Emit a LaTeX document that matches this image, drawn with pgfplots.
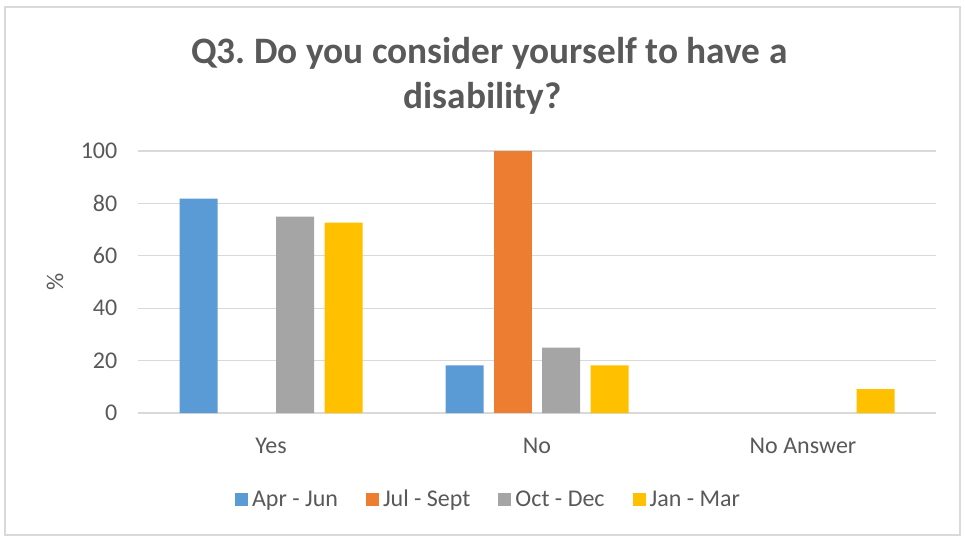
\documentclass[border=0pt]{standalone}
\usepackage{pgfplots}
\pgfplotsset{compat=1.18}
\usepackage{fontspec}
\setmainfont{Carlito}
\frenchspacing
\definecolor{cA}{HTML}{5B9BD5}
\definecolor{cB}{HTML}{ED7D31}
\definecolor{cC}{HTML}{A5A5A5}
\definecolor{cD}{HTML}{FFC000}
\definecolor{txt}{HTML}{595959}
\definecolor{grd}{HTML}{D9D9D9}
\begin{document}
\begin{tikzpicture}
\useasboundingbox (0,0) rectangle (723.75pt,402.75pt);
\draw[grd, line width=1.5pt] (3.75pt,1.5pt) rectangle (720pt,397.5pt);
\node[anchor=base, text=txt, font=\fontsize{28}{34}\selectfont\bfseries, inner sep=0pt] at (367pt,355.5pt) {Q3. Do you consider yourself to have a};
\node[anchor=base, text=txt, font=\fontsize{28}{34}\selectfont\bfseries, inner sep=0pt] at (362pt,321.75pt) {disability?};
\begin{axis}[
  at={(103.5pt,93pt)}, anchor=south west,
  scale only axis, width=598.5pt, height=196.5pt,
  ybar=7.75pt, bar width=28.5pt,
  xmin=-0.5, xmax=2.5, ymin=0, ymax=100,
  xtick={0,1,2}, xticklabels={Yes,No,No Answer},
  ytick={0,20,...,100},
  /pgf/number format/assume math mode=true,
  ymajorgrids, grid style={grd, line width=1pt},
  axis x line*=bottom, axis y line*=left,
  y axis line style={draw=none},
  x axis line style={grd, line width=1pt},
  major tick length=0pt,
  tick label style={font=\fontsize{18}{22}\selectfont, text=txt},
  yticklabel style={xshift=-12pt},
  xticklabel style={yshift=-15pt},
  ylabel={\%},
  ylabel style={at={(axis description cs:-0.104,0.5)}, anchor=center, font=\fontsize{18}{22}\selectfont, text=txt},
  legend columns=4,
  legend style={at={(axis description cs:0.4405,-0.33)}, anchor=center, draw=none, font=\fontsize{18}{22}\selectfont, text=txt,
    column sep=0pt, nodes={inner xsep=3pt},
    /tikz/every even column/.append style={column sep=18pt}},
  legend image code/.code={\path[#1] (0pt,-4.875pt) rectangle (9.75pt,4.875pt);},
]
\addplot[fill=cA, draw=none] coordinates {(0,81.8) (1,18.2)};
\addplot[fill=cB, draw=none] coordinates {(1,100)};
\addplot[fill=cC, draw=none] coordinates {(0,75) (1,25)};
\addplot[fill=cD, draw=none] coordinates {(0,72.7) (1,18.2) (2,9.1)};
\legend{Apr - Jun, Jul - Sept, Oct - Dec, Jan - Mar}
\end{axis}
\end{tikzpicture}
\end{document}
